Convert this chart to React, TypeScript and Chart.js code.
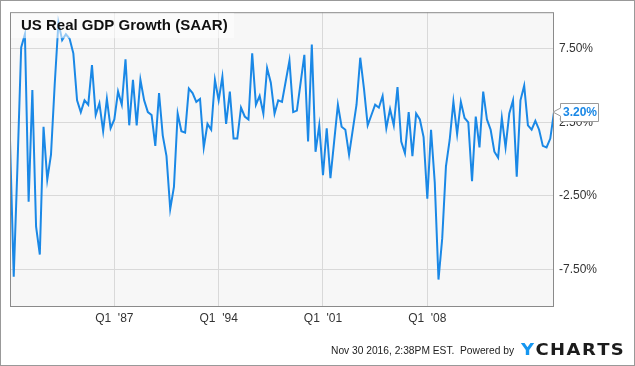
import React, { useEffect, useRef } from "react";
import { Chart, registerables } from "chart.js";

Chart.register(...registerables);

const startYear = 1980;
const gdpGrowth: number[] = [
  // 1980
  1.3, -8.0, -0.5, 7.6,
  // 1981
  8.5, -2.9, 4.7, -4.6,
  // 1982
  -6.5, 2.2, -1.4, 0.3,
  // 1983
  5.1, 9.3, 8.1, 8.5,
  // 1984
  8.2, 7.2, 4.0, 3.2,
  // 1985
  4.0, 3.7, 6.4, 3.0,
  // 1986
  3.8, 1.9, 4.1, 2.1,
  // 1987
  2.7, 4.6, 3.7, 6.8,
  // 1988
  2.3, 5.4, 2.3, 5.4,
  // 1989
  4.0, 3.2, 3.0, 0.9,
  // 1990
  4.5, 1.6, 0.2, -3.4,
  // 1991
  -1.9, 3.1, 1.9, 1.8,
  // 1992
  4.8, 4.5, 3.9, 4.1,
  // 1993
  0.8, 2.4, 2.0, 5.4,
  // 1994
  4.0, 5.6, 2.4, 4.6,
  // 1995
  1.4, 1.4, 3.5, 2.9,
  // 1996
  2.7, 7.2, 3.7, 4.3,
  // 1997
  3.1, 6.2, 5.2, 3.1,
  // 1998
  4.0, 3.9, 5.3, 6.7,
  // 1999
  3.2, 3.3, 5.2, 7.1,
  // 2000
  1.2, 7.8, 0.5, 2.3,
  // 2001
  -1.1, 2.1, -1.3, 1.2,
  // 2002
  3.7, 2.2, 2.0, 0.3,
  // 2003
  2.0, 3.7, 6.9, 4.8,
  // 2004
  2.3, 3.0, 3.7, 3.5,
  // 2005
  4.3, 2.1, 3.4, 2.3,
  // 2006
  4.9, 1.2, 0.4, 3.2,
  // 2007
  0.2, 3.1, 2.7, 1.5,
  // 2008
  -2.7, 2.0, -1.6, -8.2,
  // 2009
  -5.4, -0.5, 1.3, 3.9,
  // 2010
  1.7, 3.9, 2.8, 2.5,
  // 2011
  -1.5, 2.9, 0.8, 4.6,
  // 2012
  2.7, 2.0, 0.5, 0.1,
  // 2013
  2.8, 0.8, 3.1, 4.0,
  // 2014
  -1.2, 4.0, 5.0, 2.3,
  // 2015
  2.0, 2.6, 2.0, 0.9,
  // 2016
  0.8, 1.4, 3.2,
];

const xTickIndex: number[] = [28, 56, 84, 112];
const xTickLabels: string[] = ["Q1  '87", "Q1  '94", "Q1  '01", "Q1  '08"];
const yTickValues: number[] = [-7.5, -2.5, 2.5, 7.5];

const titleText = "US Real GDP Growth (SAAR)";
const footerText = "Nov 30 2016, 2:38PM EST.  Powered by";

const LINE = "#1a88e6";
const FONT = 'Arial, "Liberation Sans", sans-serif';

export default function App() {
  const ref = useRef<HTMLCanvasElement | null>(null);

  useEffect(() => {
    document.body.style.margin = "0";
    const canvas = ref.current;
    if (!canvas) return;

    const points = gdpGrowth.map((v, i) => ({ x: i, y: v }));
    const quarterLabels = gdpGrowth.map(
      (_, i) => `Q${(i % 4) + 1} ${startYear + Math.floor(i / 4)}`
    );

    const decor = {
      id: "decor",
      beforeDraw(chart: any) {
        const { ctx, chartArea: a } = chart;
        ctx.save();
        ctx.fillStyle = "#ffffff";
        ctx.fillRect(0, 0, chart.width, chart.height);
        ctx.fillStyle = "#f7f7f7";
        ctx.fillRect(a.left, a.top, a.right - a.left, a.bottom - a.top);
        ctx.restore();
      },
      afterDraw(chart: any) {
        const { ctx, chartArea: a } = chart;
        ctx.save();
        // plot border
        ctx.strokeStyle = "#8a8a8a";
        ctx.lineWidth = 1;
        ctx.strokeRect(a.left + 0.5, a.top + 0.5, a.right - a.left - 1, a.bottom - a.top);
        // outer border
        ctx.strokeStyle = "#999999";
        ctx.strokeRect(0.5, 0.5, chart.width - 1, chart.height - 1);

        // title box
        ctx.fillStyle = "rgba(255,255,255,0.55)";
        ctx.fillRect(a.left + 1, a.top + 1, 223, 25);
        ctx.fillStyle = "#111111";
        ctx.font = `bold 15px ${FONT}`;
        ctx.textBaseline = "alphabetic";
        ctx.textAlign = "left";
        ctx.fillText(titleText, 21, 29.5);

        // last value label
        const last = gdpGrowth[gdpGrowth.length - 1];
        const yPix = chart.scales.y.getPixelForValue(last);
        const bx = 560.5, bw = 38, bh = 18;
        const by = Math.round(yPix - bh / 2) + 0.5;
        ctx.beginPath();
        ctx.moveTo(bx, by);
        ctx.lineTo(bx + bw, by);
        ctx.lineTo(bx + bw, by + bh);
        ctx.lineTo(bx, by + bh);
        ctx.lineTo(bx, yPix + 4);
        ctx.lineTo(a.right - 1, yPix);
        ctx.lineTo(bx, yPix - 4);
        ctx.closePath();
        ctx.fillStyle = "#ffffff";
        ctx.fill();
        ctx.strokeStyle = "#9a9a9a";
        ctx.stroke();
        ctx.fillStyle = LINE;
        ctx.font = `bold 12px ${FONT}`;
        ctx.textBaseline = "middle";
        ctx.fillText(last.toFixed(2) + "%", 563, yPix + 0.5);

        // footer (fit to reference width)
        ctx.textBaseline = "alphabetic";
        ctx.textAlign = "left";
        ctx.fillStyle = "#222222";
        ctx.font = `11px ${FONT}`;
        const fw = ctx.measureText(footerText).width;
        const fTarget = 183;
        ctx.save();
        ctx.translate(331, 354);
        ctx.scale(fTarget / fw, 1);
        ctx.fillText(footerText, 0, 0);
        ctx.restore();

        // YCHARTS logo
        ctx.font = `bold 15px "DejaVu Sans", ${FONT}`;
        const gap = 1.2;
        const yW = ctx.measureText("Y").width;
        const restW = ctx.measureText("CHARTS").width;
        const target = 102;
        const sx = target / (yW + restW + 6 * gap);
        ctx.translate(521, 354.5);
        ctx.scale(sx, 1);
        ctx.fillStyle = "#1596f0";
        ctx.fillText("Y", 0, 0);
        ctx.fillStyle = "#1c1c1c";
        let cx = yW + gap;
        for (const ch of "CHARTS") {
          ctx.fillText(ch, cx, 0);
          cx += ctx.measureText(ch).width + gap;
        }
        ctx.restore();
      },
    };

    const chart = new Chart(canvas, {
      type: "line",
      data: {
        labels: quarterLabels,
        datasets: [
          {
            label: "US Real GDP Growth (SAAR)",
            data: points,
            borderColor: LINE,
            borderWidth: 2,
            pointRadius: 0,
            tension: 0,
            fill: false,
          },
        ],
      },
      options: {
        responsive: false,
        animation: false,
        layout: { padding: { left: 10, top: 10, right: 0, bottom: 0 } },
        plugins: {
          legend: { display: false },
          tooltip: { enabled: false },
          title: { display: false },
        },
        scales: {
          x: {
            type: "linear",
            min: 0,
            max: gdpGrowth.length - 1,
            afterBuildTicks: (scale: any) => {
              scale.ticks = xTickIndex.map((v) => ({ value: v }));
            },
            afterFit: (scale: any) => {
              scale.height = 60;
            },
            grid: { color: "#d9d9d9", drawTicks: false },
            border: { display: false },
            ticks: {
              autoSkip: false,
              maxRotation: 0,
              padding: 5,
              color: "#333333",
              font: { family: FONT, size: 12 },
              callback: (v: any) => {
                const k = xTickIndex.indexOf(Number(v));
                return k >= 0 ? xTickLabels[k] : "";
              },
            },
          },
          y: {
            position: "right",
            min: -10,
            max: 10,
            afterBuildTicks: (scale: any) => {
              scale.ticks = yTickValues.map((v) => ({ value: v }));
            },
            afterFit: (scale: any) => {
              scale.width = 81;
            },
            grid: { color: "#d9d9d9", drawTicks: false },
            border: { display: false },
            ticks: {
              padding: 5,
              color: "#333333",
              font: { family: FONT, size: 12 },
              callback: (v: any) => Number(v).toFixed(2) + "%",
            },
          },
        },
      },
      plugins: [decor],
    } as any);

    return () => chart.destroy();
  }, []);

  return (
    <div style={{ position: "absolute", left: 0, top: 0, width: 635, height: 366 }}>
      <canvas ref={ref} width={635} height={366} style={{ display: "block" }} />
    </div>
  );
}
